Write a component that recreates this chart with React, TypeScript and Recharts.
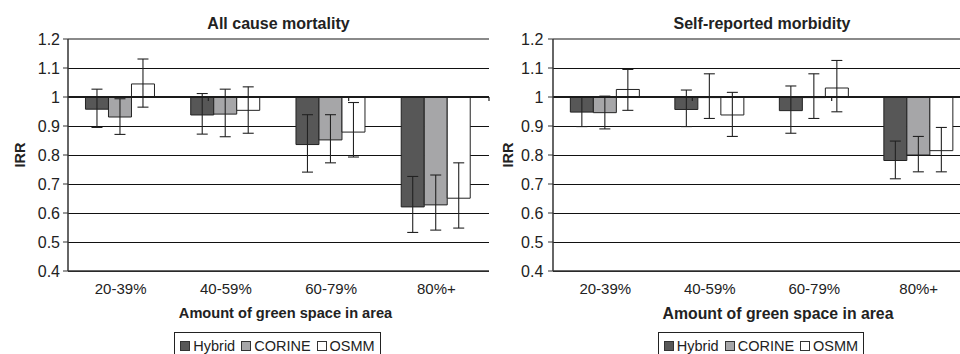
import React from 'react';
import { BarChart, Bar, XAxis, YAxis, CartesianGrid, ErrorBar, ReferenceLine, Label } from 'recharts';

const categories = ['20-39%', '40-59%', '60-79%', '80%+'];
const seriesNames = ['Hybrid', 'CORINE', 'OSMM'];
const yTickLabels = [0.4, 0.5, 0.6, 0.7, 0.8, 0.9, 1.0, 1.1, 1.2];

// All cause mortality (IRR, lower CI, upper CI)
const mortHybrid = [0.958, 0.938, 0.836, 0.621];
const mortHybridLow = [0.895, 0.872, 0.741, 0.533];
const mortHybridHigh = [1.027, 1.012, 0.939, 0.726];
const mortCorine = [0.931, 0.941, 0.852, 0.628];
const mortCorineLow = [0.871, 0.863, 0.773, 0.541];
const mortCorineHigh = [0.994, 1.027, 0.939, 0.731];
const mortOsmm = [1.045, 0.954, 0.879, 0.651];
const mortOsmmLow = [0.965, 0.875, 0.793, 0.548];
const mortOsmmHigh = [1.131, 1.035, 0.981, 0.773];

// Self-reported morbidity
const morbHybrid = [0.948, 0.957, 0.953, 0.781];
const morbHybridLow = [0.898, 0.898, 0.875, 0.718];
const morbHybridHigh = [0.999, 1.024, 1.038, 0.848];
const morbCorine = [0.946, 0.998, 0.998, 0.8];
const morbCorineLow = [0.89, 0.926, 0.926, 0.742];
const morbCorineHigh = [1.003, 1.08, 1.08, 0.864];
const morbOsmm = [1.026, 0.938, 1.031, 0.815];
const morbOsmmLow = [0.954, 0.864, 0.949, 0.742];
const morbOsmmHigh = [1.095, 1.016, 1.126, 0.895];

const BASE = 1;
const FONT = '"Liberation Sans", Arial, Helvetica, sans-serif';
const FILLS = ['#575757', '#a6a6a8', '#ffffff'];
const INK = '#222222';

type Series = { v: number[]; lo: number[]; hi: number[] };

function buildRows(series: Series[]) {
  return categories.map((c, i) => {
    const row: any = { cat: c };
    series.forEach((s, k) => {
      row['s' + k] = s.v[i] - BASE;
      row['e' + k] = [s.v[i] - s.lo[i], s.hi[i] - s.v[i]];
    });
    return row;
  });
}

const mortRows = buildRows([
  { v: mortHybrid, lo: mortHybridLow, hi: mortHybridHigh },
  { v: mortCorine, lo: mortCorineLow, hi: mortCorineHigh },
  { v: mortOsmm, lo: mortOsmmLow, hi: mortOsmmHigh },
]);
const morbRows = buildRows([
  { v: morbHybrid, lo: morbHybridLow, hi: morbHybridHigh },
  { v: morbCorine, lo: morbCorineLow, hi: morbCorineHigh },
  { v: morbOsmm, lo: morbOsmmLow, hi: morbOsmmHigh },
]);

const yTicks = yTickLabels.map((t) => t - BASE);
const fmt = (v: number) => String(Math.round((v + BASE) * 10) / 10);

type PanelProps = {
  title: string;
  rows: any[];
  left: number;
  marginRight: number;
  axisTitleDx: number;
  axisTitleSize: number;
  axisTitleDy: number;
  irrX: number;
  yTickMargin: number;
  legendLeft: number;
  legendWidth: number;
};

function Panel(p: PanelProps) {
  const W = 500;
  const H = 354;
  const plotLeft = 68;
  const plotRight = W - p.marginRight;
  return (
    <div style={{ position: 'absolute', left: p.left, top: 0, width: W, height: H }}>
      <div
        style={{
          position: 'absolute',
          left: plotLeft,
          width: plotRight - plotLeft,
          top: 16,
          textAlign: 'center',
          fontWeight: 'bold',
          fontSize: 16,
          lineHeight: '16px',
          color: '#222',
          whiteSpace: 'nowrap',
        }}
      >
        {p.title}
      </div>
      <BarChart
        width={W}
        height={H}
        data={p.rows}
        margin={{ top: 39, right: p.marginRight, left: 8, bottom: 53 }}
        barCategoryGap="16.6%"
        barGap={0}
        style={{ fontFamily: FONT }}
      >
        <CartesianGrid vertical={false} stroke="#111" strokeWidth={1} shapeRendering="crispEdges" />
        <XAxis
          dataKey="cat"
          height={30}
          tickLine={false}
          tickSize={6}
          tickMargin={6}
          axisLine={{ stroke: '#333', strokeWidth: 1.5 }}
          tick={{ fill: '#222', fontSize: 15, fontFamily: FONT }}
          interval={0}
        >
          <Label
            content={(lp: any) => {
              const vb = lp.viewBox;
              return (
                <text
                  x={vb.x + vb.width / 2 + p.axisTitleDx}
                  y={vb.y + p.axisTitleDy}
                  textAnchor="middle"
                  fontWeight="bold"
                  fontSize={p.axisTitleSize}
                  fontFamily={FONT}
                  fill="#222"
                >
                  Amount of green space in area
                </text>
              );
            }}
          />
        </XAxis>
        <XAxis xAxisId="num" type="number" domain={[0, 4]} hide allowDataOverflow />
        <YAxis
          width={60}
          domain={[yTicks[0], yTicks[yTicks.length - 1]]}
          ticks={yTicks}
          allowDataOverflow
          tickFormatter={fmt}
          tickSize={5}
          tickMargin={p.yTickMargin}
          tickLine={{ stroke: '#333' }}
          axisLine={{ stroke: '#333', strokeWidth: 1.5 }}
          tick={{ fill: '#222', fontSize: 16, fontFamily: FONT }}
        >
          <Label
            content={(lp: any) => {
              const vb = lp.viewBox;
              const cx = vb.x + p.irrX;
              const cy = vb.y + vb.height / 2;
              return (
                <text
                  x={cx}
                  y={cy}
                  transform={`rotate(-90 ${cx} ${cy})`}
                  textAnchor="middle"
                  dominantBaseline="central"
                  fontWeight="bold"
                  fontSize={14.5}
                  fontFamily={FONT}
                  fill="#222"
                >
                  IRR
                </text>
              );
            }}
          />
        </YAxis>
        <ReferenceLine y={yTicks[yTicks.length - 1]} stroke="#8a8a8a" strokeWidth={2} />
        <ReferenceLine xAxisId="num" x={4} stroke="#8a8a8a" strokeWidth={1.5} />
        {[1, 2, 3].map((b) => (
          <ReferenceLine
            key={b}
            xAxisId="num"
            segment={[
              { x: b, y: 0 },
              { x: b, y: -0.014 },
            ]}
            stroke="#222"
            strokeWidth={1.2}
          />
        ))}
        {seriesNames.map((n, k) => (
          <Bar
            key={n}
            name={n}
            dataKey={'s' + k}
            fill={FILLS[k]}
            stroke={INK}
            strokeWidth={1}
            isAnimationActive={false}
          >
            <ErrorBar dataKey={'e' + k} width={5.5} stroke={INK} strokeWidth={1.1} direction="y" />
          </Bar>
        ))}
        <ReferenceLine y={0} stroke="#1a1a1a" strokeWidth={2} />
      </BarChart>
      <div
        style={{
          position: 'absolute',
          left: p.legendLeft,
          top: 332,
          width: p.legendWidth,
          height: 32,
          boxSizing: 'border-box',
          border: '1.5px solid #222',
          display: 'flex',
          justifyContent: 'center',
          alignItems: 'flex-start',
          paddingTop: 4,
          fontSize: 14.5,
          lineHeight: '18px',
          color: '#222',
          fontFamily: FONT,
          background: '#fff',
        }}
      >
        {seriesNames.map((n, k) => (
          <span key={n} style={{ display: 'inline-flex', alignItems: 'center', marginRight: k < 2 ? 6 : 0 }}>
            <span
              style={{
                display: 'inline-block',
                width: 8,
                height: 8,
                background: FILLS[k],
                border: '1px solid #333',
                marginRight: 3,
              }}
            />
            {n}
          </span>
        ))}
      </div>
    </div>
  );
}

export default function App() {
  return (
    <div
      style={{
        position: 'absolute',
        left: 0,
        top: 0,
        width: 960,
        height: 354,
        overflow: 'hidden',
        background: '#fff',
        fontFamily: FONT,
      }}
    >
      <Panel
        title="All cause mortality"
        rows={mortRows}
        left={0}
        marginRight={11}
        axisTitleDx={7}
        axisTitleSize={14.6}
        axisTitleDy={46.7}
        irrX={12}
        yTickMargin={3}
        legendLeft={174}
        legendWidth={207}
      />
      <Panel
        title="Self-reported morbidity"
        rows={morbRows}
        left={485}
        marginRight={14}
        axisTitleDx={16}
        axisTitleSize={15.8}
        axisTitleDy={48}
        irrX={14.7}
        yTickMargin={4.7}
        legendLeft={173}
        legendWidth={206}
      />
    </div>
  );
}
